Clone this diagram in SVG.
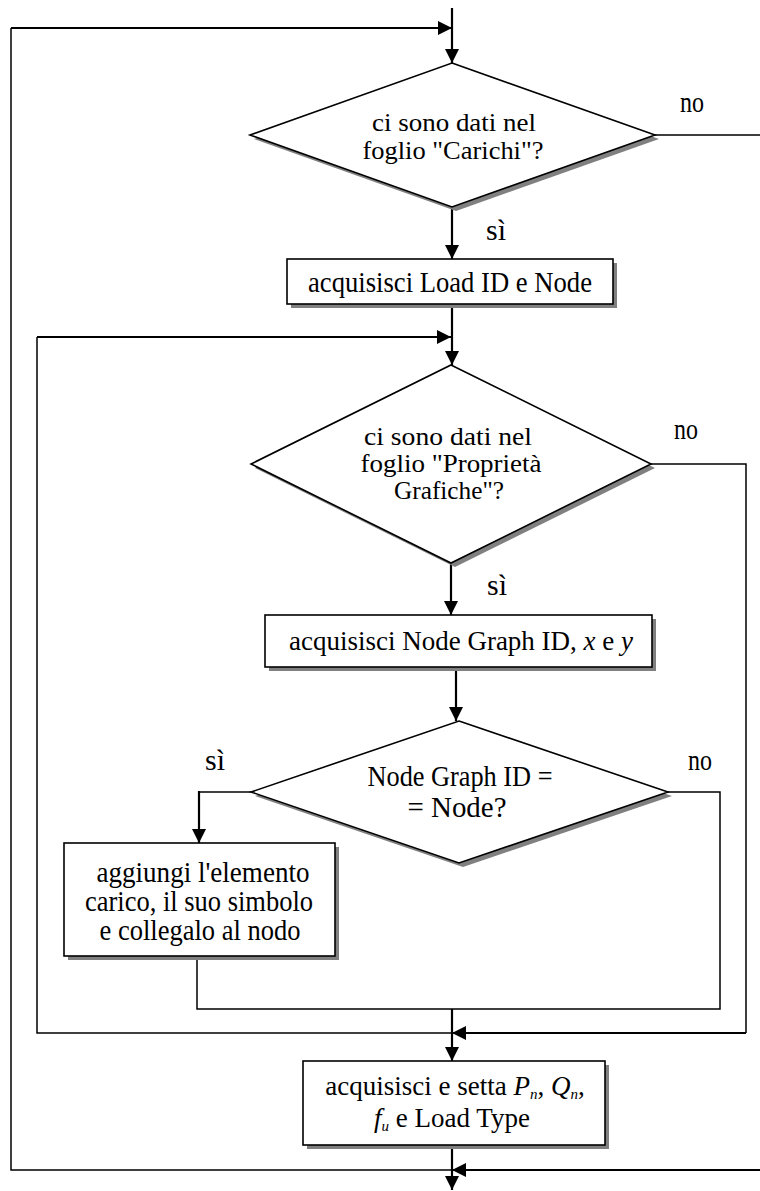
<svg xmlns="http://www.w3.org/2000/svg" width="760" height="1191" viewBox="0 0 760 1191">
<style>
text{font-family:"Liberation Serif","Times New Roman",serif;font-size:29px;fill:#000}
.c{text-anchor:middle}
.m{font-size:27px}
.s{font-size:26px}
.sh{fill:#808080;stroke:none}
.nd{fill:#fff;stroke:#000;stroke-width:1.6}
.ln{fill:none;stroke:#000;stroke-width:1.5}
.ar{fill:none;stroke:#000;stroke-width:2.2;marker-end:url(#ah)}
.i{font-style:italic}
.sub{font-style:italic;font-size:15px}
</style>
<defs>
<marker id="ah" viewBox="0 0 10 10" refX="10" refY="5" markerWidth="15" markerHeight="14" markerUnits="userSpaceOnUse" orient="auto">
<path d="M0,0 L10,5 L0,10 z" fill="#000"/>
</marker>
</defs>
<rect width="760" height="1191" fill="#fff"/>
<g id="connectors">
<path class="ar" d="M452,8 V63"/>
<path class="ln" d="M452,1170 H11 V28"/>
<path class="ar" d="M11,28 H452"/>
<path class="ln" d="M655,135 H761 V1170"/>
<path class="ar" d="M761,1170 H452"/>
<path class="ar" d="M452,1145 V1190"/>
<path class="ar" d="M452,207 V259"/>
<path class="ar" d="M452,304 V365"/>
<path class="ln" d="M452,1033 H37 V337"/>
<path class="ar" d="M37,337 H451"/>
<path class="ar" d="M451,563 V615"/>
<path class="ln" d="M651,464 H746 V1033"/>
<path class="ar" d="M746,1033 H452"/>
<path class="ar" d="M456,667 V721"/>
<path class="ln" d="M251,792 H199"/>
<path class="ar" d="M199,791 V843"/>
<path class="ln" d="M197,956 V1009 H720 V792 H668"/>
<path class="ar" d="M452,1009 V1061"/>
</g>
<g id="labels">
<text x="692" y="112" class="c" textLength="24" lengthAdjust="spacingAndGlyphs">no</text>
<text x="486" y="240" textLength="20" lengthAdjust="spacingAndGlyphs">sì</text>
<text x="686" y="439" class="c" textLength="24" lengthAdjust="spacingAndGlyphs">no</text>
<text x="487" y="595" textLength="20" lengthAdjust="spacingAndGlyphs">sì</text>
<text x="215" y="770" class="c" textLength="20" lengthAdjust="spacingAndGlyphs">sì</text>
<text x="700" y="770" class="c" textLength="24" lengthAdjust="spacingAndGlyphs">no</text>
</g>
<g id="d1">
<polygon class="sh" points="456,67 659,139 456,211 254,139"/>
<polygon class="nd" points="452,63 655,135 452,207 250,135"/>
<text x="454" y="131" class="c s" textLength="164" lengthAdjust="spacingAndGlyphs">ci sono dati nel</text>
<text x="453" y="159" class="c s" textLength="181" lengthAdjust="spacingAndGlyphs">foglio "Carichi"?</text>
</g>
<g id="b1">
<rect class="sh" x="291" y="263" width="326" height="45"/>
<rect class="nd" x="287" y="259" width="326" height="45"/>
<text x="450" y="292" class="c" textLength="284" lengthAdjust="spacingAndGlyphs">acquisisci Load ID e Node</text>
</g>
<g id="d2">
<polygon class="sh" points="455,369 655,468 455,567 255,468"/>
<polygon class="nd" points="451,365 651,464 451,563 251,464"/>
<text x="448" y="445" class="c s" textLength="168" lengthAdjust="spacingAndGlyphs">ci sono dati nel</text>
<text x="451" y="472" class="c s" textLength="181" lengthAdjust="spacingAndGlyphs">foglio "Proprietà</text>
<text x="449" y="499" class="c s" textLength="110" lengthAdjust="spacingAndGlyphs">Grafiche"?</text>
</g>
<g id="b2">
<rect class="sh" x="269" y="619" width="387" height="52"/>
<rect class="nd" x="265" y="615" width="387" height="52"/>
<text x="461" y="650" class="c m">acquisisci Node Graph ID, <tspan class="i">x</tspan> e <tspan class="i">y</tspan></text>
</g>
<g id="d3">
<polygon class="sh" points="463,725 672,796 463,867 255,796"/>
<polygon class="nd" points="459,721 668,792 459,863 251,792"/>
<text x="460" y="786" class="c" textLength="185" lengthAdjust="spacingAndGlyphs">Node Graph ID =</text>
<text x="457" y="817" class="c" textLength="99" lengthAdjust="spacingAndGlyphs">= Node?</text>
</g>
<g id="b3">
<rect class="sh" x="68" y="847" width="271" height="113"/>
<rect class="nd" x="64" y="843" width="271" height="113"/>
<text x="203" y="882" class="c" textLength="213" lengthAdjust="spacingAndGlyphs">aggiungi l'elemento</text>
<text x="199" y="911" class="c" textLength="228" lengthAdjust="spacingAndGlyphs">carico, il suo simbolo</text>
<text x="200" y="940" class="c" textLength="201" lengthAdjust="spacingAndGlyphs">e collegalo al nodo</text>
</g>
<g id="b4">
<rect class="sh" x="307" y="1065" width="302" height="84"/>
<rect class="nd" x="303" y="1061" width="302" height="84"/>
<text x="455" y="1095" class="c m">acquisisci e setta <tspan class="i">P</tspan><tspan class="sub" dy="4">n</tspan><tspan dy="-4">, </tspan><tspan class="i">Q</tspan><tspan class="sub" dy="4">n</tspan><tspan dy="-4">,</tspan></text>
<text x="452" y="1127" class="c m"><tspan class="i">f</tspan><tspan class="sub" dy="4">u</tspan><tspan dy="-4"> e Load Type</tspan></text>
</g>
</svg>
